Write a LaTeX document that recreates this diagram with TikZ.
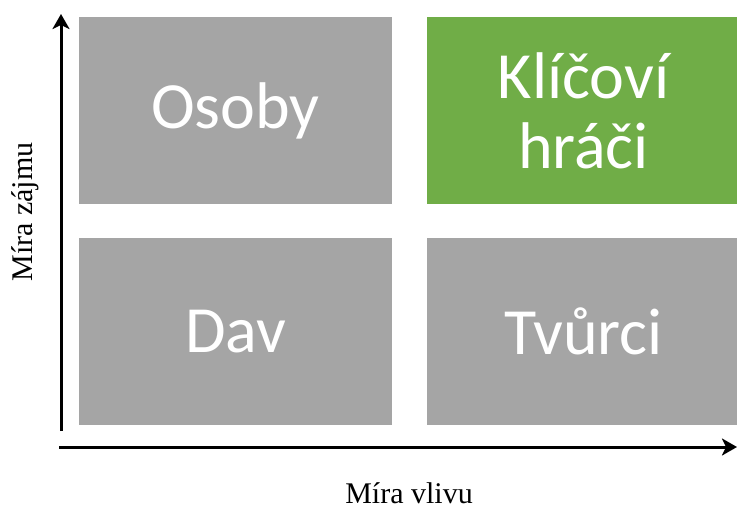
\documentclass[tikz,border=0pt]{standalone}
\usepackage{fontspec}
\setmainfont{Liberation Serif}
\newfontfamily\boxfont{Carlito}
\usetikzlibrary{arrows.meta}
\definecolor{quadgray}{HTML}{A5A5A5}
\definecolor{quadgreen}{HTML}{70AD47}
\tikzset{
  quad/.style={draw=none, minimum width=313pt, minimum height=187pt, inner sep=0pt,
    text=white, align=center, font=\boxfont\fontsize{66}{70}\selectfont},
  axis/.style={line width=3pt, -{Stealth[length=15pt,width=17pt,inset=4pt]}},
  axislabel/.style={font=\fontsize{30}{33}\selectfont, inner sep=0pt}
}
\begin{document}
\begin{tikzpicture}[x=1pt,y=-1pt]
  \useasboundingbox (0,0) rectangle (737,509);
  % quadrants
  \node[quad, fill=quadgray]  (tl) at (235.5,110.5) {Osoby};
  \node[quad, fill=quadgreen] (tr) at (583.5,110.5) {Klíčoví\\hráči};
  \node[quad, fill=quadgray]  (bl) at (235.5,331.5) {Dav};
  \node[quad, fill=quadgray]  (br) at (583.5,331.5) {Tvůrci};
  % axes
  \coordinate (ybot) at (61,431);
  \coordinate (ytop) at (61,14);
  \coordinate (xleft) at (59,447);
  \coordinate (xright) at (737,447);
  \draw[axis] (ybot) -- (ytop);
  \draw[axis] (xleft) -- (xright);
  % axis labels
  \node[axislabel, rotate=90, anchor=base] (ylab) at (32,212) {Míra zájmu};
  \node[axislabel, anchor=base] (xlab) at (409,503) {Míra vlivu};
\end{tikzpicture}
\end{document}
